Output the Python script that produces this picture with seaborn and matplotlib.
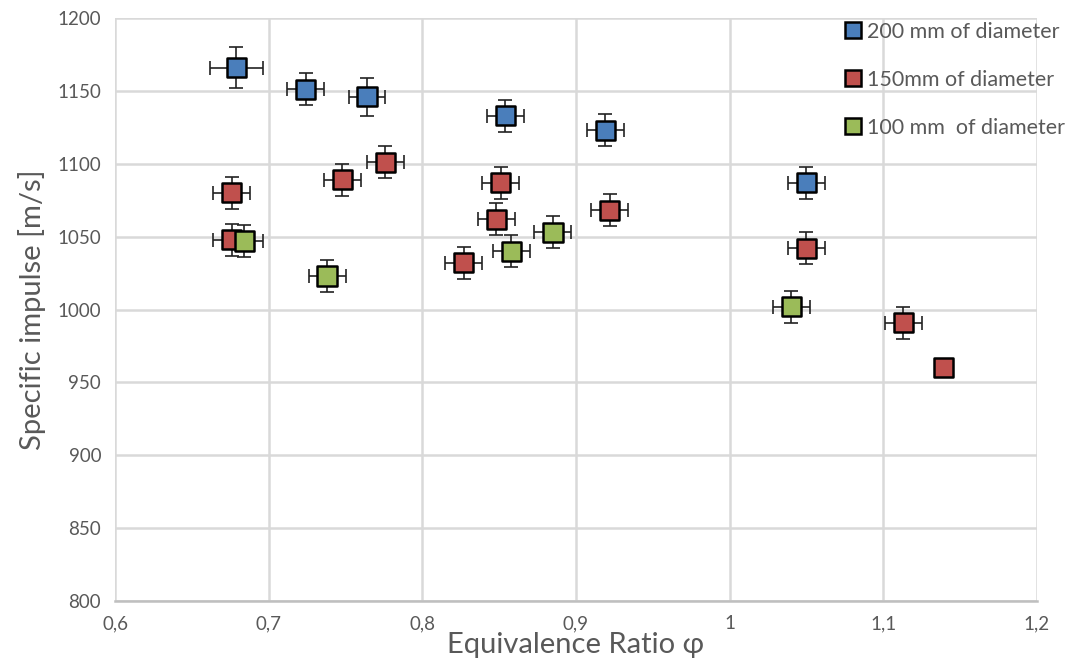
import pandas as pd
import numpy as np
import seaborn as sns
import matplotlib.pyplot as plt
from matplotlib.lines import Line2D

# Data
d200_phi = [0.679, 0.724, 0.764, 0.854, 0.919, 1.050]
d200_isp = [1166, 1151, 1146, 1133, 1123, 1087]
d200_xerr = [0.017, 0.012, 0.012, 0.012, 0.012, 0.012]
d200_yerr = [14, 11, 13, 11, 11, 11]

d150_phi = [0.676, 0.748, 0.776, 0.676, 0.827, 0.851, 0.848, 0.922, 1.050, 1.113, 1.139]
d150_isp = [1080, 1089, 1101, 1048, 1032, 1087, 1062, 1068, 1042, 991, 960]
d150_xerr = [0.012, 0.012, 0.012, 0.012, 0.012, 0.012, 0.012, 0.012, 0.012, 0.012, 0.0]
d150_yerr = [11, 11, 11, 11, 11, 11, 11, 11, 11, 11, 0]

d100_phi = [0.684, 0.738, 0.858, 0.885, 1.040]
d100_isp = [1047, 1023, 1040, 1053, 1002]
d100_xerr = [0.012, 0.012, 0.012, 0.012, 0.012]
d100_yerr = [11, 11, 11, 11, 11]

labels = ['200 mm of diameter', '150mm of diameter', '100 mm  of diameter']
colors = ['#4A7EBB', '#C0504D', '#9BBB59']

df = pd.concat([
    pd.DataFrame({'phi': d200_phi, 'isp': d200_isp, 'xerr': d200_xerr, 'yerr': d200_yerr, 'series': labels[0]}),
    pd.DataFrame({'phi': d150_phi, 'isp': d150_isp, 'xerr': d150_xerr, 'yerr': d150_yerr, 'series': labels[1]}),
    pd.DataFrame({'phi': d100_phi, 'isp': d100_isp, 'xerr': d100_xerr, 'yerr': d100_yerr, 'series': labels[2]}),
], ignore_index=True)

sns.set_style('white')
plt.rcParams['font.family'] = ['Lato', 'DejaVu Sans']

fig = plt.figure(figsize=(10.73, 6.68), dpi=100)
ax = fig.add_axes([0.1072, 0.1003, 0.8592, 0.8727])

# error bars first, then markers on top
for lab in labels:
    sub = df[df['series'] == lab]
    ax.errorbar(sub['phi'], sub['isp'], xerr=sub['xerr'], yerr=sub['yerr'],
                fmt='none', ecolor='#222222', elinewidth=1.2, capsize=5,
                capthick=1.2, zorder=3)

sns.scatterplot(data=df, x='phi', y='isp', hue='series', hue_order=labels,
                palette=colors, marker='s', s=190, edgecolor='black',
                linewidth=1.8, legend=False, zorder=4, ax=ax)

ax.set_xlim(0.6, 1.2)
ax.set_ylim(800, 1200)
ax.set_xticks(np.arange(0.6, 1.21, 0.1))
ax.set_xticklabels(['0,6', '0,7', '0,8', '0,9', '1', '1,1', '1,2'])
ax.set_yticks(np.arange(800, 1201, 50))
ax.grid(True, color='#d9d9d9', linewidth=1.8)
ax.set_axisbelow(True)
for s in ['top', 'right', 'left']:
    ax.spines[s].set_visible(False)
ax.spines['bottom'].set_color('#bfbfbf')
ax.spines['bottom'].set_linewidth(1.8)
ax.tick_params(axis='both', length=0, labelsize=13.5, colors='#595959', pad=10)

ax.set_xlabel('Equivalence Ratio φ', fontsize=21, color='#595959', labelpad=0)
ax.set_ylabel('Specific impulse [m/s]', fontsize=21, color='#595959', labelpad=8)

handles = [Line2D([], [], marker='s', linestyle='none', markersize=11,
                  markerfacecolor=c, markeredgecolor='black', markeredgewidth=1.8)
           for c in colors]
leg = ax.legend(handles, labels, loc='upper left', bbox_to_anchor=(0.78, 1.008),
                frameon=False, fontsize=15.5, handletextpad=0.15, labelspacing=1.3,
                borderaxespad=0, handlelength=1.0)
for t in leg.get_texts():
    t.set_color('#595959')

fig.savefig('out.png', dpi=100)
